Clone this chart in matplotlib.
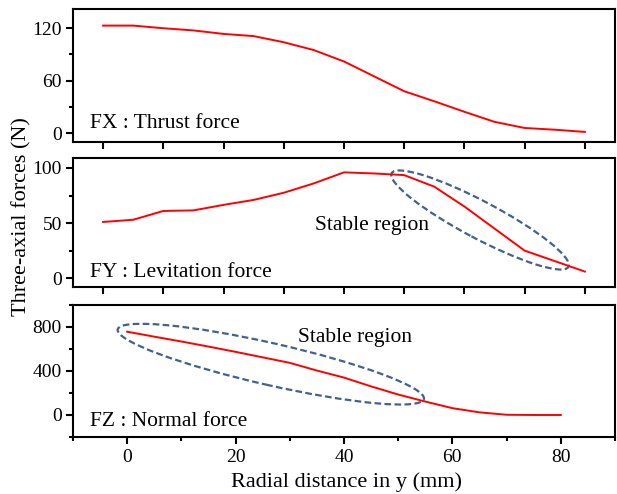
import numpy as np
import matplotlib
matplotlib.use('Agg')
import matplotlib.pyplot as plt
from matplotlib.patches import Ellipse
from matplotlib.transforms import ScaledTranslation
from matplotlib.ticker import MultipleLocator

plt.rcParams['font.family'] = ['Liberation Serif', 'DejaVu Serif']

# Radial distance (mm)
y_pos = [0, 5, 10, 15, 20, 25, 30, 35, 40, 45, 50, 55, 60, 65, 70, 75, 80]

# Three-axial forces (N)
fx = [123, 123, 120, 117.5, 113.5, 111, 104, 95, 82, 65, 48, 36.5, 24.5, 13, 6, 4, 1.5]
fy = [51, 53, 61, 61.5, 66.5, 71, 77.5, 86, 96, 95, 93.5, 83, 65, 45, 25, 15.5, 6]
fz = [757, 712, 668, 622, 574, 524, 474, 404, 340, 260, 186, 122, 62, 24, 2, 0, 0]

panel_labels = ['FX : Thrust force', 'FY : Levitation force', 'FZ : Normal force']

red = '#ff0000'
dash_blue = '#41628e'
dash_style = (0, (3, 1.5))

fig = plt.figure(figsize=(6.17, 4.94), dpi=100)
ax1 = fig.add_axes([0.1183, 0.7126, 0.8784, 0.2692])
ax2 = fig.add_axes([0.1183, 0.4190, 0.8784, 0.2611])
ax3 = fig.add_axes([0.1183, 0.1154, 0.8784, 0.2672])

for ax in (ax1, ax2, ax3):
    for sp in ax.spines.values():
        sp.set_linewidth(1.5)
    ax.tick_params(which='major', direction='out', length=5, width=1.5,
                   labelsize=14, pad=3)
    ax.tick_params(which='minor', direction='out', length=3, width=1.5)

# FX panel
ax1.plot(y_pos, fx, color=red, lw=1.4)
ax1.set_xlim(-5, 85)
ax1.set_ylim(-10, 142)
ax1.set_xticks(np.arange(0, 81, 10))
ax1.tick_params(axis='x', labelbottom=False)
ax1.set_yticks([0, 60, 120])
ax1.yaxis.set_minor_locator(MultipleLocator(30))
ax1.text(0.031, 0.103, panel_labels[0], transform=ax1.transAxes,
         fontsize=15.5, va='baseline')

# FY panel
ax2.plot(y_pos, fy, color=red, lw=1.4)
ax2.set_xlim(-5, 85)
ax2.set_ylim(-8, 109)
ax2.set_xticks(np.arange(0, 81, 10))
ax2.tick_params(axis='x', labelbottom=False)
ax2.set_yticks([0, 50, 100])
ax2.yaxis.set_minor_locator(MultipleLocator(25))
ax2.text(0.031, 0.075, panel_labels[1], transform=ax2.transAxes,
         fontsize=15.5, va='baseline')
ax2.text(0.4465, 0.442, 'Stable region', transform=ax2.transAxes,
         fontsize=15.5, va='baseline')
# ellipse size given in pixels, centred at a data point
ax2.add_patch(Ellipse((0, 0), 200, 37, angle=-27.9, fill=False,
                      ec=dash_blue, lw=1.6, ls=dash_style,
                      transform=ScaledTranslation(62.6, 52.8, ax2.transData)))

# FZ panel
ax3.plot(y_pos, fz, color=red, lw=1.4)
ax3.set_xlim(-10, 90)
ax3.set_ylim(-200, 1000)
ax3.set_xticks([0, 20, 40, 60, 80])
ax3.xaxis.set_minor_locator(MultipleLocator(10))
ax3.set_yticks([0, 400, 800])
ax3.yaxis.set_minor_locator(MultipleLocator(200))
ax3.tick_params(axis='x', pad=3.5)
ax3.text(0.031, 0.083, panel_labels[2], transform=ax3.transAxes,
         fontsize=15.5, va='baseline')
ax3.text(0.4157, 0.722, 'Stable region', transform=ax3.transAxes,
         fontsize=15.5, va='baseline')
ax3.add_patch(Ellipse((0, 0), 314, 42, angle=-12.8, fill=False,
                      ec=dash_blue, lw=1.6, ls=dash_style,
                      transform=ScaledTranslation(26.5, 462, ax3.transData)))

fig.text(0.036, 0.561, 'Three-axial forces (N)', rotation=90,
         ha='center', va='center', fontsize=16)
fig.text(0.561, 0.0142, 'Radial distance in y (mm)', ha='center',
         va='baseline', fontsize=16)

fig.savefig('out.png', dpi=100)
